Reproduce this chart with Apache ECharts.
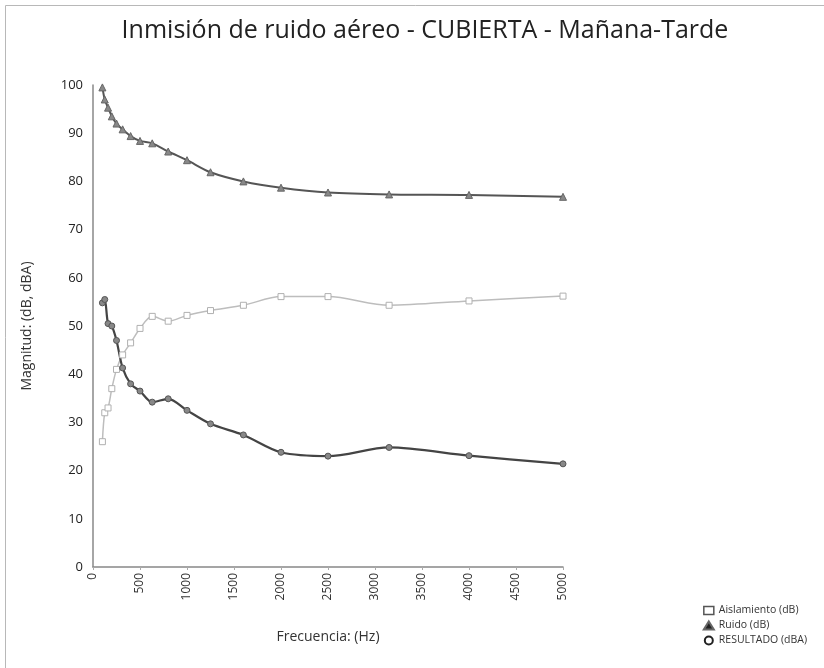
<!DOCTYPE html>
<html>
<head>
<meta charset="utf-8">
<script src="https://cdn.jsdelivr.net/npm/echarts@6/dist/echarts.min.js"></script>
<style>html,body{margin:0;padding:0;background:#fff;}#c{width:824px;height:668px;}</style>
</head>
<body>
<div id="c"></div>
<script>
const frequencies = [100,125,160,200,250,315,400,500,630,800,1000,1250,1600,2000,2500,3150,4000,5000];
const aislamiento = [26,32,33,37,41,44,46.5,49.5,52,51,52.2,53.2,54.3,56.1,56.1,54.3,55.2,56.2];
const ruido = [99.5,97,95.3,93.5,92,90.8,89.4,88.4,87.9,86.2,84.4,81.9,80,78.7,77.7,77.3,77.2,76.8];
const resultado = [54.8,55.5,50.5,50,47,41.3,38,36.5,34.2,34.9,32.5,29.7,27.4,23.8,23.0,24.8,23.1,21.4];
const seriesNames = ['Aislamiento (dB)','Ruido (dB)','RESULTADO (dBA)'];
const titleText = 'Inmisión de ruido aéreo - CUBIERTA - Mañana-Tarde';

const pair = arr => frequencies.map((f,i)=>[f,arr[i]]);
const font = '"Open Sans", "Noto Sans", sans-serif';
const chart = echarts.init(document.getElementById('c'), null, {renderer:'canvas'});
chart.setOption({
  animation:false,
  backgroundColor:'#fff',
  textStyle:{fontFamily:font},
  title:{text:titleText,left:420,textAlign:'center',top:13,textStyle:{fontFamily:font,fontSize:25,fontWeight:'normal',color:'#222'}},
  graphic:[{type:'rect',shape:{x:5.5,y:5.5,width:830,height:680},style:{fill:'none',stroke:'#b8b8b8',lineWidth:1},silent:true}],
  grid:{left:93,right:261,top:85,bottom:101},
  legend:{orient:'vertical',right:12,top:600,itemGap:4,itemWidth:10,itemHeight:8,
    textStyle:{fontFamily:font,fontSize:10.5,color:'#333'},
    data:[{name:seriesNames[0],icon:'rect',itemStyle:{color:'#fff',borderColor:'#555',borderWidth:1.5}},
          {name:seriesNames[1],icon:'triangle',itemStyle:{color:'#222'}},
          {name:seriesNames[2],icon:'circle',itemStyle:{color:'#fff',borderColor:'#222',borderWidth:2}}]},
  xAxis:{type:'value',min:0,max:5000,interval:500,
    name:'Frecuencia: (Hz)',nameLocation:'middle',nameGap:63,
    nameTextStyle:{fontFamily:font,fontSize:14,color:'#333'},
    axisLine:{show:true,lineStyle:{color:'#888',width:1.5}},
    axisTick:{show:true,length:3,lineStyle:{color:'#aaa'}},
    axisLabel:{rotate:90,fontFamily:font,fontSize:12,color:'#333',margin:6,formatter:v=>String(v)},
    splitLine:{show:false}},
  yAxis:{type:'value',min:0,max:100,interval:10,
    name:'Magnitud: (dB, dBA)',nameLocation:'middle',nameGap:59,
    nameTextStyle:{fontFamily:font,fontSize:14,color:'#333'},
    axisLine:{show:true,lineStyle:{color:'#888',width:1.5}},
    axisTick:{show:false},
    axisLabel:{fontFamily:font,fontSize:13,color:'#222',margin:10},
    splitLine:{show:false}},
  series:[
    {name:seriesNames[0],type:'line',data:pair(aislamiento),smooth:0.3,symbol:'rect',symbolSize:6,
      lineStyle:{color:'#bdbdbd',width:1.5},itemStyle:{color:'#fff',borderColor:'#b0b0b0',borderWidth:1}},
    {name:seriesNames[1],type:'line',data:pair(ruido),smooth:0.3,symbol:'triangle',symbolSize:7,
      lineStyle:{color:'#555',width:2},itemStyle:{color:'#888',borderColor:'#666',borderWidth:1}},
    {name:seriesNames[2],type:'line',data:pair(resultado),smooth:0.3,symbol:'circle',symbolSize:6,
      lineStyle:{color:'#444',width:2.2},itemStyle:{color:'#888',borderColor:'#555',borderWidth:1}}
  ]
});
</script>
</body>
</html>
